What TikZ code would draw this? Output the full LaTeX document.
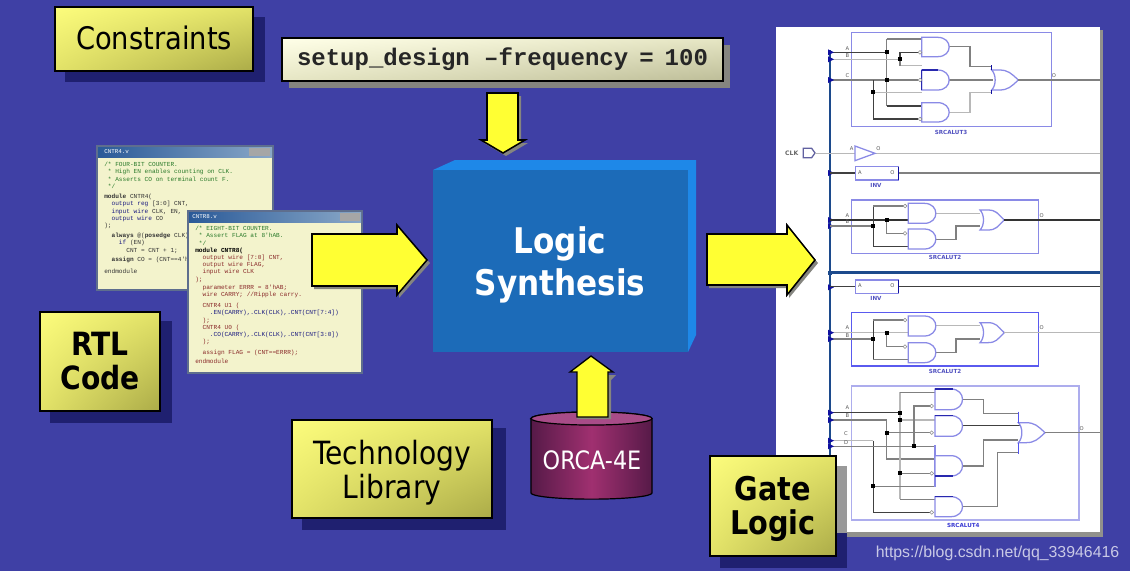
\documentclass[tikz,border=0pt]{standalone}
\usepackage{fontspec}
\usetikzlibrary{shadings}
\setmainfont{DejaVu Sans}
\setmonofont{Liberation Mono}
\newfontfamily\headfont[FakeStretch=0.88]{DejaVu Sans}
\newfontfamily\markfont{Liberation Sans}
\definecolor{pagebg}{HTML}{3F40A5}
\definecolor{navyshadow}{HTML}{1F2070}
\definecolor{arrowfill}{HTML}{FFFF33}
\definecolor{greyshadow}{HTML}{85857F}
\definecolor{blockfront}{HTML}{1C6BB8}
\definecolor{blockedge}{HTML}{1E88E8}
\definecolor{gateline}{HTML}{8A8AE6}
\definecolor{pinblue}{HTML}{1010A0}
\definecolor{busblue}{HTML}{1C4A8C}
\definecolor{labelblue}{HTML}{5050C0}
\definecolor{commentgreen}{HTML}{2A7A2A}
\definecolor{kwnavy}{HTML}{1A1A80}
\definecolor{sigred}{HTML}{8A2A2A}
\definecolor{yhigh}{HTML}{FCFC7C}
\definecolor{ymid}{HTML}{E2E268}
\definecolor{ylow}{HTML}{ABAB48}
\definecolor{creamhigh}{HTML}{FFFFE8}
\definecolor{creammid}{HTML}{E6E6C4}
\definecolor{creamlow}{HTML}{BDBD98}
\definecolor{winpaper}{HTML}{F3F3CC}
\definecolor{winedge}{HTML}{5E6E8E}
\definecolor{titleleft}{HTML}{2A5A98}
\definecolor{titleright}{HTML}{8AA8C8}
\definecolor{cyledge}{HTML}{561A48}
\definecolor{cylmid}{HTML}{A03070}
\definecolor{cyltop}{HTML}{A84C88}
\tikzset{
  ybox/.style={draw=black,line width=1.6pt,shade,upper left=yhigh,upper right=ymid,lower left=ymid,lower right=ylow},
  creambox/.style={draw=black,line width=.9pt,shade,upper left=creamhigh,upper right=creammid,lower left=creammid,lower right=creamlow},
  blockarrow/.style={fill=arrowfill,draw=black,line width=1.15pt,line join=miter,miter limit=4},
  arrowshade/.style={fill=greyshadow},
  winframe/.style={fill=winpaper,draw=winedge,line width=1.5pt},
  titlebar/.style={left color=titleleft,right color=titleright},
  codetext/.style={align=left,inner sep=0pt,anchor=north west,text=black!80,font=\ttfamily\fontsize{4.6}{5.4}\selectfont},
  wdark/.style={draw=black!75,line width=.85pt},
  wmid/.style={draw=black!50,line width=1pt},
  wlight/.style={draw=black!28,line width=1.05pt},
  gateshape/.style={draw=gateline,line width=.95pt,fill=white},
  tinylabel/.style={inner sep=0pt,text=black!65,font=\fontsize{3.9}{4}\selectfont},
  boxlabel/.style={inner sep=0pt,text=labelblue,font=\bfseries\fontsize{4.2}{4}\selectfont},
}
% Schematic primitives; coordinates are three times finer than the page grid
\newcommand\andgate[3]{\path[gateshape] (#1,#2) -- ++(48,0) .. controls +(46,0) and +(46,0) .. ++(0,#3) -- ++(-48,0) -- cycle;}
\newcommand\orgate[3]{\path[gateshape] (#1,#2) -- ++(22,0) .. controls +(28,0) and +(-22,-20) .. ++(#3-22,30) .. controls +(-22,20) and +(28,0) .. ++(22-#3,30) -- ++(-22,0) .. controls +(14,-14) and +(14,14) .. ++(0,-60) -- cycle;}
\newcommand\junction[2]{\fill[black] (#1,#2) ++(-6,-6) rectangle ++(12,12);}
\newcommand\buspin[2]{\fill[pinblue] (#1,#2) ++(-6,-9) -- ++(18,9) -- ++(-18,9) -- cycle;}
\newcommand\bubble[2]{\draw[black!45,fill=white,line width=.4pt] (#1,#2) circle[radius=1.4pt];}
\begin{document}
\begin{tikzpicture}[x=.75pt,y=-.75pt]
\useasboundingbox (0,0) rectangle (1130,572);
\fill[pagebg] (0,0) rectangle (1130,572);
\fill[white] (0,571) rectangle (1130,572);

% Schematic sheet
\fill[greyshadow!90!white] (779,30) rectangle (1103,537);
\fill[white] (776,27) rectangle (1100,532);

% Upper half of the schematic
\begin{scope}[shift={(770,20)},x=.25pt,y=-.25pt]
  \draw[busblue,line width=1.4pt] (180,90) -- (180,1305);
  \draw[gateline,line width=.9pt] (245,38) rectangle (845,320);
  % SRCALUT3 wiring
  \draw[wdark] (180,97) -- (350,97);
  \draw[wmid] (350,57) -- (350,258) (350,57) -- (455,57) (350,180) -- (445,180);
  \draw[wdark,line width=1.1pt] (350,258) -- (455,258);
  \draw[wlight] (180,118) -- (390,118) (390,137) -- (455,137);
  \draw[wmid] (390,118) -- (390,137);
  \draw[wdark] (390,118) -- (390,97) -- (445,97);
  \draw[wmid] (180,180) -- (350,180);
  \draw[wdark] (310,180) -- (310,297) -- (445,297);
  \draw[wlight] (310,217) -- (455,217);
  \draw[wmid] (537,80) -- (600,80) -- (600,140) -- (665,140);
  \draw[wmid] (537,180) -- (670,180);
  \draw[wlight] (537,277) -- (600,277) -- (600,217) -- (665,217);
  \andgate{455}{52}{58}
  \andgate{455}{150}{60}
  \andgate{455}{248}{58}
  \draw[pinblue!80!gateline,line width=1pt] (455,150) -- (505,150) (455,150) -- (455,210);
  \orgate{665}{150}{80}
  \draw[pinblue,line width=.8pt] (665,135) -- (665,150) (665,210) -- (665,222);
  \draw[wmid] (745,180) -- (990,180);
  \foreach \a/\b in {350/97,350/180,390/118,310/217} {\junction{\a}{\b}}
  \foreach \a/\b in {180/97,180/118,180/180,180/459,180/600,180/618,180/802} {\buspin{\a}{\b}}
  \foreach \a/\b in {450/97,450/180,450/297} {\bubble{\a}{\b}}
  \node[tinylabel] (u1a) at (232,85) {A};
  \node[tinylabel] (u1b) at (232,107) {B};
  \node[tinylabel] (u1c) at (232,167) {C};
  \node[tinylabel] (u1o) at (852,167) {O};
  \node[boxlabel] (lut3a) at (543,336) {SRCALUT3};
  % Clock input and its inverter
  \node[inner sep=0pt,text=black!60,font=\bfseries\fontsize{4.6}{5}\selectfont] (clk) at (65,399) {CLK};
  \path[gateshape,draw=gateline!70!black] (100,385) -- (125,385) -- (135,399) -- (125,413) -- (100,413) -- cycle;
  \draw[wlight] (135,400) -- (255,400) (315,400) -- (990,400);
  \path[gateshape] (255,378) -- (315,400) -- (255,422) -- cycle;
  \node[tinylabel] (inva) at (245,385) {A};
  \node[tinylabel] (invo) at (325,385) {O};
  % INV cell
  \draw[wdark] (180,459) -- (257,459);
  \draw[wmid,line width=1.2pt] (385,459) -- (990,459);
  \draw[gateline,fill=white,line width=1.1pt] (257,440) rectangle (385,480);
  \draw[pinblue,line width=1pt] (385,440) -- (385,480);
  \node[tinylabel] (i1a) at (270,459) {A};
  \node[tinylabel] (i1o) at (367,459) {O};
  \node[boxlabel] (i1n) at (318,497) {INV};
  % SRCALUT2, first instance
  \draw[gateline,line width=.9pt] (245,540) rectangle (805,700);
  \draw[black!80,line width=1.1pt] (180,600) -- (415,600);
  \draw[wmid] (350,600) -- (350,640) -- (405,640) (180,618) -- (310,618);
  \draw[wdark] (310,558) -- (310,680) (310,680) -- (415,680);
  \draw[wmid] (310,558) -- (405,558);
  \draw[wlight] (497,580) -- (630,580);
  \draw[wmid,line width=1.1pt] (497,658) -- (558,658) -- (558,618) -- (630,618);
  \andgate{415}{550}{60}
  \andgate{415}{627}{60}
  \orgate{630}{570}{73}
  \draw[black!80,line width=1.1pt] (703,600) -- (990,600);
  \foreach \a/\b in {350/600,310/618} {\junction{\a}{\b}}
  \foreach \a/\b in {405/558,405/640} {\bubble{\a}{\b}}
  \node[tinylabel] (u2a) at (232,586) {A};
  \node[tinylabel] (u2b) at (232,606) {B};
  \node[tinylabel] (u2o) at (815,586) {O};
  \node[boxlabel] (lut2a) at (525,712) {SRCALUT2};
  % Heavy horizontal bus
  \draw[busblue,line width=2.2pt] (180,758) -- (990,758);
  \fill[busblue] (174,752) rectangle (186,764);
\end{scope}

% Lower half of the schematic
\begin{scope}[shift={(770,270)},x=.25pt,y=-.25pt]
  % Second INV cell
  \draw[wdark] (180,50) -- (257,50);
  \draw[wdark,line width=1.2pt] (385,50) -- (990,50);
  \draw[gateline,fill=white,line width=1.1pt] (257,30) rectangle (385,70);
  \draw[pinblue,line width=1pt] (385,30) -- (385,70);
  \node[tinylabel] (i2a) at (270,47) {A};
  \node[tinylabel] (i2o) at (367,47) {O};
  \node[boxlabel] (i2n) at (318,84) {INV};
  % SRCALUT2, second instance
  \draw[gateline!65!blue,line width=1.1pt] (245,128) rectangle (805,288);
  \draw[wlight] (180,188) -- (415,188);
  \draw[wmid] (350,188) -- (350,230) -- (405,230) (180,207) -- (310,207);
  \draw[wdark] (310,150) -- (310,268);
  \draw[wmid] (310,150) -- (405,150) (310,268) -- (415,268);
  \draw[wlight] (497,167) -- (630,167);
  \draw[wmid] (497,247) -- (558,247) -- (558,207) -- (630,207);
  \andgate{415}{138}{60}
  \andgate{415}{218}{60}
  \orgate{630}{158}{73}
  \draw[wlight] (703,188) -- (990,188);
  \foreach \a/\b in {350/188,310/207} {\junction{\a}{\b}}
  \foreach \a/\b in {405/150,405/230} {\bubble{\a}{\b}}
  \node[tinylabel] (u3a) at (232,174) {A};
  \node[tinylabel] (u3b) at (232,196) {B};
  \node[tinylabel] (u3o) at (815,173) {O};
  \node[boxlabel] (lut2b) at (525,305) {SRCALUT2};
  % SRCALUT4
  \draw[gateline!70!white,line width=1.1pt] (245,348) rectangle (927,750);
  \draw[wdark] (180,428) -- (390,428);
  \draw[wmid] (180,450) -- (350,450);
  \draw[wmid,line width=1.1pt] (350,450) -- (350,567) -- (495,567);
  \draw[wlight] (390,367) -- (390,688);
  \draw[wmid] (390,367) -- (495,367) (390,688) -- (495,688);
  \draw[wlight] (390,450) -- (495,450);
  \draw[wmid,line width=1.1pt] (350,488) -- (485,488) (390,610) -- (485,610);
  \draw[wlight] (180,512) -- (310,512);
  \draw[wdark] (310,512) -- (310,727) -- (485,727);
  \draw[wmid] (310,649) -- (495,649);
  \draw[wmid] (180,529) -- (495,529);
  \draw[wmid,line width=1.2pt] (432,529) -- (432,408) -- (485,408);
  \draw[wmid] (577,388) -- (640,388) -- (640,430) -- (745,430);
  \draw[wdark,line width=1.1pt] (577,467) -- (750,467);
  \draw[wmid,line width=1.2pt] (577,588) -- (640,588) -- (640,510) -- (745,510);
  \draw[wmid] (577,710) -- (682,710) -- (682,548) -- (745,548);
  \draw[gateline,line width=.8pt] (495,525) -- (495,650);
  \andgate{495}{357}{62}
  \andgate{495}{437}{62}
  \andgate{495}{557}{61}
  \andgate{495}{680}{60}
  \draw[pinblue!80!gateline,line width=.9pt] (495,357) -- (550,357) (495,437) -- (550,437) (495,618) -- (550,618) (495,680) -- (550,680);
  \orgate{745}{458}{80}
  \draw[gateline!60!blue,line width=.8pt] (745,425) -- (745,458) (745,518) -- (745,553);
  \draw[wmid] (825,488) -- (990,488);
  \foreach \a/\b in {390/428,390/450,350/488,432/529,390/610,310/649} {\junction{\a}{\b}}
  \foreach \a/\b in {485/408,485/488,485/610,485/727} {\bubble{\a}{\b}}
  \foreach \a/\b in {180/188,180/207,180/428,180/450,180/512,180/529} {\buspin{\a}{\b}}
  \node[tinylabel] (u4a) at (232,414) {A};
  \node[tinylabel] (u4b) at (232,436) {B};
  \node[tinylabel] (u4c) at (228,492) {C};
  \node[tinylabel] (u4d) at (228,518) {D};
  \node[tinylabel] (u4o) at (935,476) {O};
  \node[boxlabel,text=labelblue!70!blue] (lut4) at (580,765) {SRCALUT4};
\end{scope}

% Constraints label and command line
\fill[navyshadow] (65,17) rectangle (265,82);
\path[ybox] (55,7) rectangle (253,71);
\node[inner sep=0pt,text=black,font=\headfont\fontsize{23.3}{28}\selectfont] (constraints) at (154,38) {Constraints};

\fill[greyshadow] (289,45) rectangle (730,88);
\path[creambox] (282,38) rectangle (723,81);
\node[inner sep=0pt,text=black!85,font=\ttfamily\bfseries\fontsize{18}{20}\selectfont] (setup) at (502.5,59) {setup\_design –frequency\hspace{-2.5pt} = \hspace{-2.5pt}100};

% Down arrow into the synthesis block
\fill[arrowshade] (490,96) -- (521,96) -- (521,143) -- (528,143) -- (506,156) -- (484,143) -- (490,143) -- cycle;
\path[blockarrow] (487,93) -- (518,93) -- (518,140) -- (525,140) -- (503,153) -- (481,140) -- (487,140) -- cycle;

% Source code windows
\path[winframe] (97,146) rectangle (273,290);
\path[titlebar] (98,147) rectangle (272,157);
\fill[black!35] (249,148) rectangle (270,156);
\node[inner sep=0pt,anchor=west,text=white,font=\ttfamily\fontsize{4.4}{5}\selectfont] (w1title) at (104,152) {CNTR4.v};
\node[codetext] (w1code) at (104,162) {%
\textcolor{commentgreen}{/* FOUR-BIT COUNTER.}\\
\textcolor{commentgreen}{\ * High EN enables counting on CLK.}\\
\textcolor{commentgreen}{\ * Asserts CO on terminal count F.}\\
\textcolor{commentgreen}{\ */}\\[2.4pt]
\textbf{module} CNTR4(\\
\ \ \textcolor{kwnavy}{output reg} [3:0] CNT,\\
\ \ \textcolor{kwnavy}{input wire} CLK, EN,\\
\ \ \textcolor{kwnavy}{output wire} CO\\
);\\[2.2pt]
\ \ \textbf{always} @(\textbf{posedge} CLK)\\
\ \ \ \ \textcolor{kwnavy}{if} (EN)\\
\ \ \ \ \ \ CNT = CNT + 1;\\[2pt]
\ \ \textbf{assign} CO = (CNT==4'hF);\\[3.2pt]
endmodule};

\path[winframe] (188,211) rectangle (362,373);
\path[titlebar] (189,212) rectangle (361,222);
\fill[black!35] (340,213) rectangle (360,221);
\node[inner sep=0pt,anchor=west,text=white,font=\ttfamily\fontsize{4.4}{5}\selectfont] (w2title) at (192,217) {CNTR8.v};
\node[codetext,text=sigred] (w2code) at (195,226) {%
\textcolor{commentgreen}{/* EIGHT-BIT COUNTER.}\\
\textcolor{commentgreen}{\ * Assert FLAG at 8'hAB.}\\
\textcolor{commentgreen}{\ */}\\
\textbf{\textcolor{black}{module CNTR8(}}\\
\ \ output wire [7:0] CNT,\\
\ \ output wire FLAG,\\
\ \ input wire CLK\\
);\\[.8pt]
\ \ parameter ERRR = 8'hAB;\\
\ \ wire CARRY; //Ripple carry.\\[3pt]
\ \ CNTR4 U1 (\\
\ \ \ \ \textcolor{kwnavy}{.EN(CARRY),.CLK(CLK),.CNT(CNT[7:4])}\\
\ \ );\\
\ \ CNTR4 U0 (\\
\ \ \ \ \textcolor{kwnavy}{.CO(CARRY),.CLK(CLK),.CNT(CNT[3:0])}\\
\ \ );\\[2.6pt]
\ \ assign FLAG = (CNT==ERRR);\\[1.6pt]
endmodule};

% Arrow from the code into the synthesis block
\fill[arrowshade] (314,237) -- (399,237) -- (399,228) -- (430,263) -- (399,298) -- (399,289) -- (314,289) -- cycle;
\path[blockarrow] (312,234) -- (397,234) -- (397,225) -- (427,260) -- (397,295) -- (397,286) -- (312,286) -- cycle;

% Logic synthesis block
\fill[blockedge] (433,170) -- (455,160) -- (696,160) -- (696,335) -- (688,352) -- (688,170) -- cycle;
\fill[blockfront] (433,170) rectangle (688,352);
\node[align=center,inner sep=0pt,text=white,font=\headfont\bfseries\fontsize{26.5}{31.5}\selectfont] (synth) at (560,265) {Logic\\Synthesis};

% Arrow towards the gate-level schematic
\fill[arrowshade] (709,237) -- (789,237) -- (789,228) -- (818,263) -- (789,298) -- (789,288) -- (709,288) -- cycle;
\path[blockarrow] (707,234) -- (787,234) -- (787,225) -- (815,260) -- (787,295) -- (787,285) -- (707,285) -- cycle;

% RTL Code label
\fill[navyshadow] (50,321) rectangle (172,423);
\path[ybox] (40,312) rectangle (160,411);
\node[align=center,inner sep=0pt,text=black,font=\headfont\bfseries\fontsize{24}{25}\selectfont] (rtl) at (100,361) {RTL\\Code};

% Technology library label
\fill[navyshadow] (302,428) rectangle (506,530);
\path[ybox] (292,420) rectangle (492,518);
\node[align=center,inner sep=0pt,text=black,font=\headfont\fontsize{24}{25.5}\selectfont] (techlib) at (392,473) {Technology\\Library};

% ORCA-4E library cylinder
\path[left color=cyledge,right color=cyledge,middle color=cylmid,draw=black,line width=.9pt]
  (531,418.5) -- (531,493) arc[x radius=45.4pt,y radius=4.6pt,start angle=180,delta angle=180] -- (652,418.5) arc[x radius=45.4pt,y radius=4.9pt,start angle=0,delta angle=180] -- cycle;
\draw[fill=cyltop,draw=black,line width=.9pt] (591.5,418.5) ellipse[x radius=45.4pt,y radius=4.9pt];
\node[inner sep=0pt,text=white,font=\headfont\fontsize{19}{20}\selectfont] (orca) at (592,460) {ORCA-4E};

% Arrow from the cylinder up to the block
\fill[greyshadow] (580,375) -- (616,375) -- (611,380) -- (611,419) -- (577,419) -- cycle;
\path[blockarrow,line width=1pt] (577,417) -- (577,372) -- (570,372) -- (591,356) -- (613,372) -- (608,372) -- (608,417) -- cycle;

% Gate logic label, its shadow falling partly on the sheet
\fill[navyshadow] (720,466) rectangle (847,568);
\fill[black!40] (776,466) rectangle (847,533);
\path[ybox] (710,456) rectangle (836,556);
\node[align=center,inner sep=0pt,text=black,font=\headfont\bfseries\fontsize{24.5}{26}\selectfont] (gate) at (773,509) {Gate\\Logic};

% Source address line
\node[inner sep=0pt,text=white!72!pagebg,font=\markfont\fontsize{11.9}{13}\selectfont] (credit) at (997.5,553) {https://blog.csdn.net/qq\_33946416};
\end{tikzpicture}
\end{document}
